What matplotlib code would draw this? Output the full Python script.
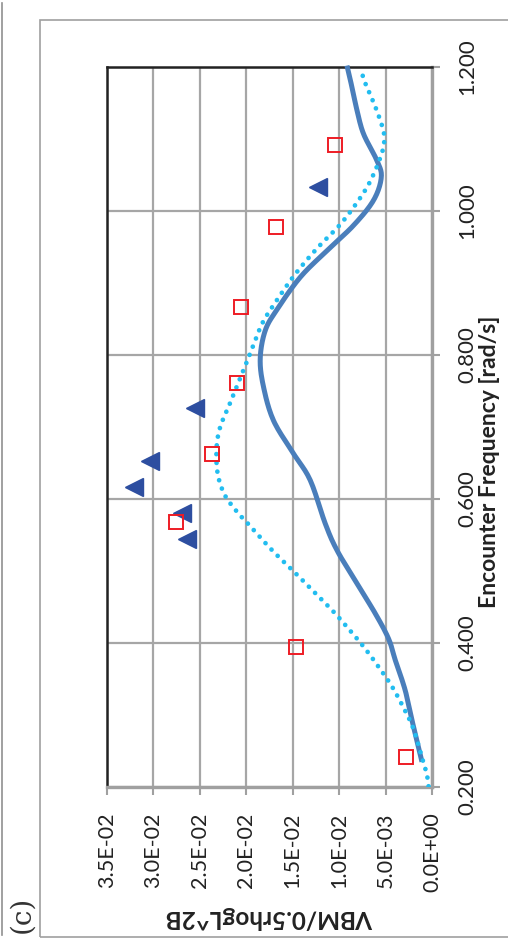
import matplotlib
matplotlib.use("Agg")
import matplotlib.pyplot as plt
from matplotlib.patches import Rectangle
from matplotlib.lines import Line2D
import numpy as np

plt.rcParams['font.family'] = ['Lato', 'DejaVu Sans']

# solid line (frequency, VBM)
solid_f = [0.235, 0.283, 0.334, 0.376, 0.406, 0.441, 0.4825, 0.529, 0.566,
           0.626, 0.663, 0.709, 0.756, 0.795, 0.834, 0.863, 0.908, 0.945, 0.980,
           1.015, 1.047, 1.070, 1.107, 1.140, 1.172, 1.202]
solid_v = [0.00108, 0.00198, 0.00288, 0.00395, 0.00468, 0.00611, 0.00808, 0.01024, 0.0115,
           0.01311, 0.01491, 0.01707, 0.01815, 0.0185, 0.01796, 0.0167, 0.01419, 0.01131, 0.00845,
           0.00629, 0.00546, 0.00593, 0.00737, 0.00808, 0.00862, 0.00916]

# dotted line
dot_f = [0.201, 0.217, 0.233, 0.280, 0.310, 0.339, 0.365, 0.392, 0.417, 0.442,
         0.465, 0.488, 0.511, 0.534, 0.559, 0.583, 0.609, 0.644, 0.691, 0.736,
         0.781, 0.812, 0.843, 0.870, 0.911, 0.948, 0.983, 1.023, 1.051, 1.082,
         1.098, 1.114, 1.145, 1.175, 1.191]
dot_v = [0.00037, 0.00054, 0.0009, 0.00198, 0.00306, 0.00428, 0.00565, 0.00719, 0.0088, 0.0105,
         0.01225, 0.0140, 0.01584, 0.0176, 0.01933, 0.02105, 0.02245, 0.02317, 0.0230, 0.02166,
         0.02023, 0.01929, 0.01832, 0.01703, 0.01481, 0.01239, 0.00977, 0.00748, 0.00629, 0.00536,
         0.00514, 0.00528, 0.00611, 0.00711, 0.00754]

# experiment markers
tri_f = [1.033, 0.726, 0.653, 0.617, 0.581, 0.544]
tri_v = [0.01228, 0.02552, 0.03037, 0.0321, 0.0269, 0.0264]

sq_f = [1.092, 0.978, 0.867, 0.761, 0.6625, 0.568, 0.394, 0.2417]
sq_v = [0.01045, 0.0168, 0.0206, 0.0210, 0.0237, 0.02757, 0.01465, 0.0028]

vbm_ticks = [0.0, 0.005, 0.010, 0.015, 0.020, 0.025, 0.030, 0.035]
freq_ticks = [0.2, 0.4, 0.6, 0.8, 1.0, 1.2]


def smooth(x, y, n=12):
    # catmull-rom through the points, like a smoothed excel line
    p = np.column_stack([x, y]).astype(float)
    p = np.vstack([p[0], p, p[-1]])
    out = []
    for i in range(1, len(p) - 2):
        p0, p1, p2, p3 = p[i - 1], p[i], p[i + 1], p[i + 2]
        for t in np.linspace(0, 1, n, endpoint=False):
            out.append(0.5 * (2 * p1 + (p2 - p0) * t + (2 * p0 - 5 * p1 + 4 * p2 - p3) * t ** 2
                              + (3 * p1 - p0 - 3 * p2 + p3) * t ** 3))
    out.append(p[-2])
    out = np.array(out)
    return out[:, 0], out[:, 1]


W, H = 508, 944
fig = plt.figure(figsize=(W / 100, H / 100), dpi=100)

# plot area (chart is drawn rotated by 90 degrees)
ax = fig.add_axes([107 / W, 1 - 787 / H, 325 / W, 720 / H])
ax.set_xlim(0.035, 0.0)
ax.set_ylim(0.2, 1.2)

# scale VBM so smoothing works in similar units
sv, sf = smooth(np.array(solid_v) * 100, solid_f)
ax.plot(sv / 100, sf, color='#4a7ebb', lw=3.6, zorder=3, clip_on=False,
        solid_capstyle='butt')
dv, df = smooth(np.array(dot_v) * 100, dot_f)
ax.plot(dv / 100, df, color='#22bdf0', lw=3.4, ls=(0, (0.01, 1.85)),
        dash_capstyle='round', zorder=3)
ax.plot(tri_v, tri_f, ls='none', marker='<', ms=12.5, color='#2d4ea0', zorder=4)
ax.plot(sq_v, sq_f, ls='none', marker='s', ms=10.5, mfc='none', mec='#ee1c25',
        mew=1.4, zorder=4)

ax.set_xticks(vbm_ticks)
ax.set_xticklabels(['{:.1E}'.format(v) for v in vbm_ticks], rotation=90)
ax.set_yticks(freq_ticks)
ax.set_yticklabels(['{:.3f}'.format(f) for f in freq_ticks], rotation=90, va='center')
ax.yaxis.tick_right()

ax.grid(True, color='#a6a6a6', lw=1.6)
ax.set_axisbelow(True)
ax.tick_params(axis='x', direction='out', length=6, width=1.5, color='#a0a0a0',
               pad=12.5, labelsize=15.5, labelcolor='#222222')
ax.tick_params(axis='y', direction='out', length=6, width=1.5, color='#a0a0a0',
               pad=12, labelsize=16, labelcolor='#222222')

ax.spines['left'].set_color('#222222')
ax.spines['left'].set_linewidth(1.8)
ax.spines['top'].set_color('#222222')
ax.spines['top'].set_linewidth(1.8)
ax.spines['right'].set_color('#a0a0a0')
ax.spines['right'].set_linewidth(2.4)
ax.spines['bottom'].set_color('#a0a0a0')
ax.spines['bottom'].set_linewidth(2.4)

fig.text(269.5 / W, 1 - 918 / H, 'VBM/0.5rhogL^2B', rotation=180, fontweight='bold',
         fontsize=17.5, ha='center', va='center', color='#222222')
fig.text(490 / W, 1 - 462 / H, 'Encounter Frequency [rad/s]', rotation=90,
         fontweight='bold', fontsize=16.5, ha='center', va='center', color='#222222')
fig.text(22 / W, 1 - 914 / H, '(c)', rotation=90, fontsize=20, ha='center', va='center',
         family='DejaVu Serif', color='#333333')

# outer chart frame and page line
fig.add_artist(Rectangle((40 / W, 1 - 937 / H), 1.0, 917 / H, transform=fig.transFigure,
                         fill=False, ec='#a0a0a0', lw=1.2))
fig.add_artist(Line2D([1.5 / W, 1.5 / W], [1 - 935 / H, 1 - 3 / H], transform=fig.transFigure,
                      color='#909090', lw=1.2))

fig.savefig('out.png', dpi=100)
